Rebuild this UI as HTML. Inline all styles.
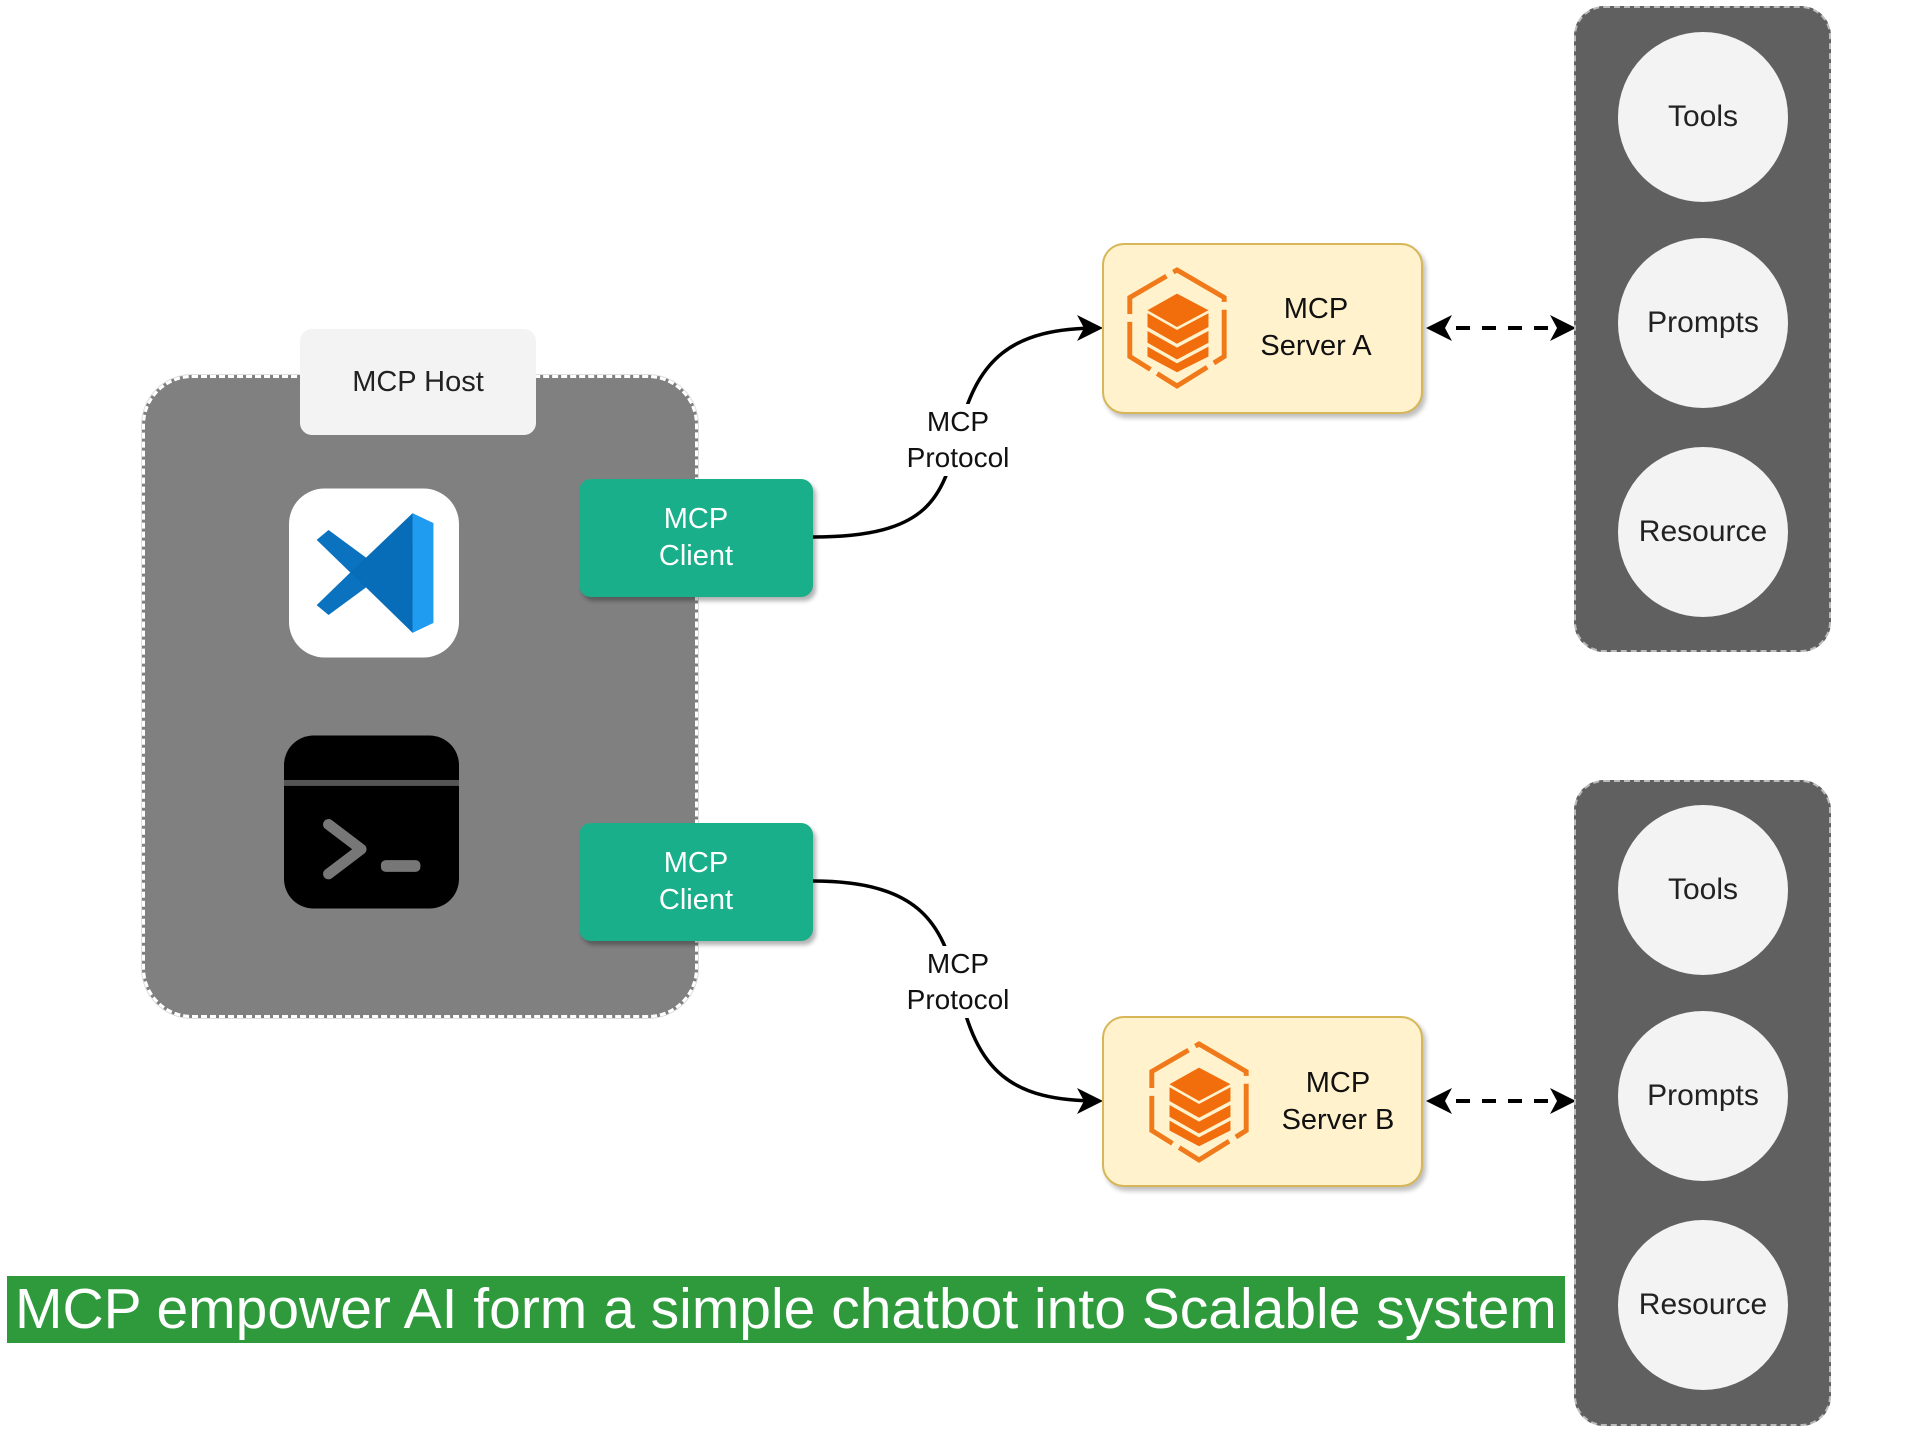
<!DOCTYPE html>
<html><head><meta charset="utf-8">
<style>
body{margin:0;width:1920px;height:1440px;background:#fff;overflow:hidden;font-family:"Liberation Sans",Arial,sans-serif;}
.abs{position:absolute;}
.host{left:142px;top:375px;width:556px;height:643px;background:#808080;border:3px dashed #fff;border-radius:50px;box-sizing:border-box;box-shadow:0 0 0 1px #ddd;}
.hostlbl{left:300px;top:329px;width:236px;height:106px;background:#f3f3f3;border-radius:12px;display:flex;align-items:center;justify-content:center;font-size:29px;color:#222;}
.client{width:234px;height:118px;background:#1aaf8b;border-radius:12px;color:#fff;font-size:29px;display:flex;align-items:center;justify-content:center;text-align:center;line-height:37px;box-shadow:3px 4px 4px rgba(0,0,0,.3);}
.server{width:321px;height:171px;background:#fff2cc;border:2px solid #d6b656;border-radius:22px;box-sizing:border-box;box-shadow:3px 4px 5px rgba(0,0,0,.25);}
.stxt{font-size:29px;color:#111;text-align:center;line-height:37px;}
.panel{left:1574px;width:257px;height:646px;background:#606060;border:2px dashed #bbb;border-radius:30px;box-sizing:border-box;}
.circ{width:170px;height:170px;border-radius:50%;background:#f3f3f3;display:flex;align-items:center;justify-content:center;font-size:30px;color:#222;left:1618px;}
.plbl{background:#fff;font-size:28px;text-align:center;line-height:36px;color:#111;}
.banner{left:7px;top:1276px;width:1558px;height:67px;background:#2f9a3c;color:#fff;font-size:57px;line-height:67px;padding-left:8px;box-sizing:border-box;white-space:nowrap;}
</style></head><body>
<div class="abs host"></div>
<div class="abs hostlbl">MCP Host</div>

<svg class="abs" style="left:289px;top:488px" width="170" height="170" viewBox="0 0 172 171">
<rect x="0" y="0" width="172" height="171" rx="36" fill="#fff"/>
<path d="M125 25 L78 70 L40 42 L28 52 L62 85 L28 118 L40 128 L78 100 L125 146 L146 136 L146 35 Z" fill="#0b72c0"/>
<path d="M125 25 L146 35 L146 136 L125 146 Z" fill="#1f9cf0"/>
<path d="M125 25 L125 146 L62 85 Z" fill="#0065a9" opacity=".35"/>
</svg>

<svg class="abs" style="left:284px;top:735px" width="175" height="174" viewBox="0 0 177 175">
<rect x="0" y="0" width="177" height="175" rx="30" fill="#000"/>
<rect x="0" y="45" width="177" height="6" fill="#555"/>
<path d="M45 90 L78 115 L45 140" stroke="#777" stroke-width="11" fill="none" stroke-linecap="round" stroke-linejoin="round"/>
<rect x="98" y="126" width="40" height="12" rx="5" fill="#777"/>
</svg>

<div class="abs client" style="left:579px;top:479px">MCP<br>Client</div>
<div class="abs client" style="left:579px;top:823px">MCP<br>Client</div>

<svg class="abs" style="left:0;top:0" width="1920" height="1440">
<defs>
<marker id="ah2" markerWidth="26" markerHeight="26" refX="22" refY="13" orient="auto-start-reverse" markerUnits="userSpaceOnUse">
<path d="M0 0 L26 13 L0 26 L7 13 Z" fill="#000"/></marker>
</defs>
<path d="M813 537 C 930 537, 942 497, 958 437 C 976 358, 1012 328, 1099 328" stroke="#000" stroke-width="3.5" fill="none" marker-end="url(#ah2)"/>
<path d="M813 881 C 930 881, 942 934, 958 984 C 976 1073, 1012 1101, 1099 1101" stroke="#000" stroke-width="3.5" fill="none" marker-end="url(#ah2)"/>
<line x1="1430" y1="328" x2="1572" y2="328" stroke="#000" stroke-width="4" stroke-dasharray="14,12" marker-start="url(#ah2)" marker-end="url(#ah2)"/>
<line x1="1430" y1="1101" x2="1572" y2="1101" stroke="#000" stroke-width="4" stroke-dasharray="14,12" marker-start="url(#ah2)" marker-end="url(#ah2)"/>
</svg>

<div class="abs plbl" style="left:900px;top:404px;width:116px">MCP<br>Protocol</div>
<div class="abs plbl" style="left:904px;top:946px;width:108px">MCP<br>Protocol</div>

<div class="abs server" style="left:1102px;top:243px"></div>
<div class="abs server" style="left:1102px;top:1016px"></div>

<svg class="abs" style="left:1118px;top:265px" width="118" height="126" viewBox="0 0 120 126">
<path d="M60 4 L108 32 L108 92 L60 122 L12 92 L12 32 Z" fill="none" stroke="#f07a1a" stroke-width="5" stroke-dasharray="60,8"/>
<path d="M30 45 L60 28 L92 45 L60 62 Z" fill="#f26d0c"/>
<path d="M30 48 L60 65 L92 48 L92 62 L60 79 L30 62 Z" fill="#f26d0c"/>
<path d="M30 66 L60 83 L92 66 L92 78 L60 95 L30 78 Z" fill="#f26d0c"/>
<path d="M30 82 L60 99 L92 82 L92 92 L60 108 L30 92 Z" fill="#f26d0c"/>
</svg>
<svg class="abs" style="left:1140px;top:1039px" width="118" height="126" viewBox="0 0 120 126">
<path d="M60 4 L108 32 L108 92 L60 122 L12 92 L12 32 Z" fill="none" stroke="#f07a1a" stroke-width="5" stroke-dasharray="60,8"/>
<path d="M30 45 L60 28 L92 45 L60 62 Z" fill="#f26d0c"/>
<path d="M30 48 L60 65 L92 48 L92 62 L60 79 L30 62 Z" fill="#f26d0c"/>
<path d="M30 66 L60 83 L92 66 L92 78 L60 95 L30 78 Z" fill="#f26d0c"/>
<path d="M30 82 L60 99 L92 82 L92 92 L60 108 L30 92 Z" fill="#f26d0c"/>
</svg>
<div class="abs stxt" style="left:1236px;top:291px;width:160px">MCP<br>Server A</div>
<div class="abs stxt" style="left:1258px;top:1065px;width:160px">MCP<br>Server B</div>

<div class="abs panel" style="top:6px"></div>
<div class="abs panel" style="top:780px"></div>
<div class="abs circ" style="top:32px">Tools</div>
<div class="abs circ" style="top:238px">Prompts</div>
<div class="abs circ" style="top:447px">Resource</div>
<div class="abs circ" style="top:805px">Tools</div>
<div class="abs circ" style="top:1011px">Prompts</div>
<div class="abs circ" style="top:1220px">Resource</div>

<div class="abs banner">MCP empower AI form a simple chatbot into Scalable system</div>
</body></html>
